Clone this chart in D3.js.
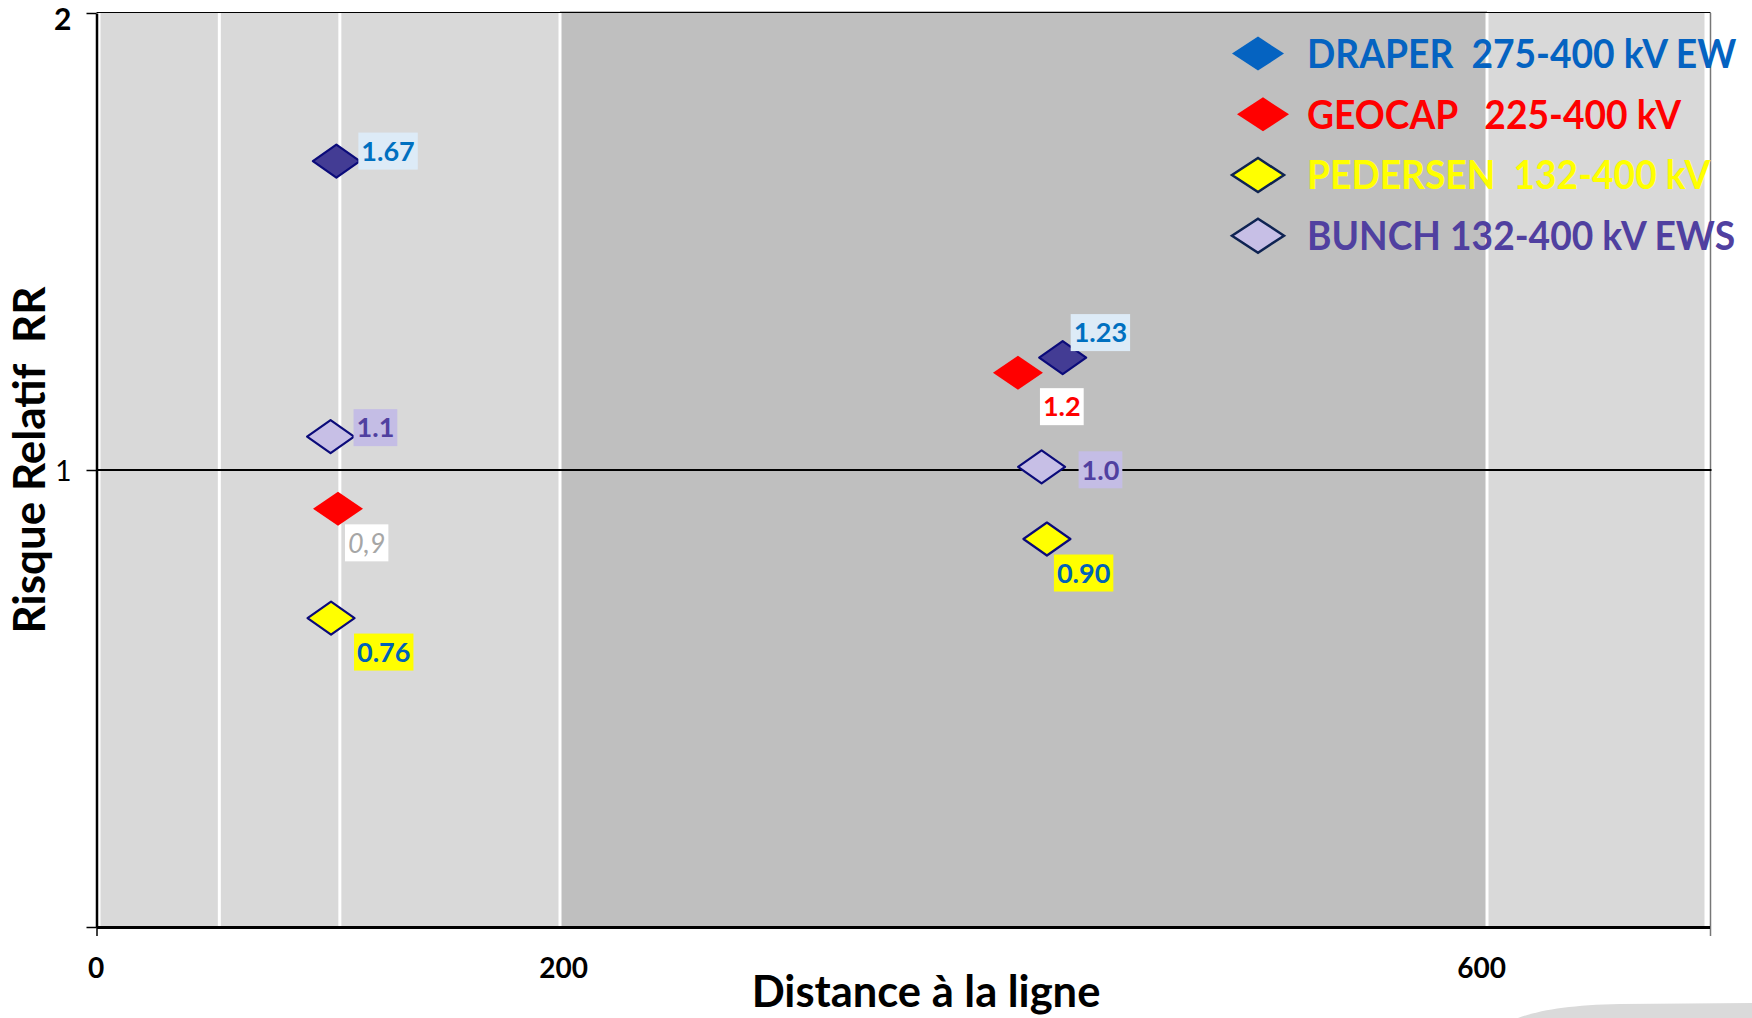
<!DOCTYPE html>
<html>
<head>
<meta charset="utf-8">
<script src="https://cdn.jsdelivr.net/npm/d3@7"></script>
<style>
body { margin: 0; background: #fff; }
svg { display: block; }
text { font-family: Lato, "Open Sans", sans-serif; }
</style>
</head>
<body>
<svg width="1752" height="1018"></svg>
<script>
// ---- data ----
var series = ["DRAPER", "GEOCAP", "PEDERSEN", "BUNCH"];
var legendLabels = ["DRAPER  275-400 kV EW", "GEOCAP   225-400 kV", "PEDERSEN  132-400 kV", "BUNCH 132-400 kV EWS"];

// points near the line (~100 m)
var nearDist = [103.5, 104.2, 101.2, 101.0];
var nearRR   = [1.676, 0.915, 0.676, 1.073];
var nearText = ["1.67", "0,9", "0.76", "1.1"];

// points further away (~400 m)
var farDist = [416.9, 397.6, 410.1, 407.8];
var farRR   = [1.246, 1.213, 0.849, 1.007];
var farText = ["1.23", "1.2", "0.90", "1.0"];

var xTicks = [0, 200, 600];
var yTicks = [0, 1, 2];
var gridX = [53, 105, 200, 600];
var xMax = 696;
var darkZone = [200, 600];

// ---- styles ----
var navy = "#0B0B7A";
var marker = {
  DRAPER:   {fill: "#433C94", stroke: navy, w: 47, h: 33},
  GEOCAP:   {fill: "#FF0000", stroke: "none", w: 50, h: 34},
  PEDERSEN: {fill: "#FFFF00", stroke: navy, w: 47, h: 33},
  BUNCH:    {fill: "#C7BFE6", stroke: navy, w: 47, h: 33}
};
var legendMarker = {
  DRAPER:   {fill: "#0563C1", stroke: "none", dx: 0},
  GEOCAP:   {fill: "#FF0000", stroke: "none", dx: 5},
  PEDERSEN: {fill: "#FFFF00", stroke: "#0E2352", dx: 0},
  BUNCH:    {fill: "#C7BFE6", stroke: "#0E2352", dx: 0}
};
var legendColor = {DRAPER: "#0563C1", GEOCAP: "#FF0000", PEDERSEN: "#FFFF00", BUNCH: "#5040A0"};

var nearLabel = {
  DRAPER:   {color: "#0070C0", bg: "#DDEBF7", dx: 22, dy: -10},
  GEOCAP:   {color: "#A6A6A6", bg: "#FFFFFF", dx: 7, dy: 34, italic: true},
  PEDERSEN: {color: "#0062B8", bg: "#FFFF00", dx: 23, dy: 34},
  BUNCH:    {color: "#5040A0", bg: "#C4BDE5", dx: 23, dy: -9}
};
var farLabel = {
  DRAPER:   {color: "#0070C0", bg: "#DDEBF7", dx: 8, dy: -25},
  GEOCAP:   {color: "#FF0000", bg: "#FFFFFF", dx: 22, dy: 34},
  PEDERSEN: {color: "#0062B8", bg: "#FFFF00", dx: 7, dy: 34},
  BUNCH:    {color: "#5040A0", bg: "#C4BDE5", dx: 37, dy: 3}
};

var svg = d3.select("svg");

var x = d3.scaleLinear().domain([0, xMax]).range([96.5, 1709.5]);
var y = d3.scaleLinear().domain([0, 2]).range([927, 13]);

function diamond(w, h) {
  return "M0," + (-h / 2) + "L" + (w / 2) + ",0L0," + (h / 2) + "L" + (-w / 2) + ",0Z";
}

// decorative swoosh bottom right
svg.append("path")
  .attr("d", "M1518,1018 C1540,1010 1570,1005 1620,1004 L1752,1003 L1752,1018 Z")
  .attr("fill", "#DADADA");

// background zones
var g = svg.append("g");
g.append("rect")
  .attr("x", x(0) + 4).attr("y", y(2))
  .attr("width", x(xMax) - x(0) - 9).attr("height", y(0) - y(2))
  .attr("fill", "#D9D9D9");
g.append("rect")
  .attr("x", x(darkZone[0])).attr("y", y(2) - 2)
  .attr("width", x(darkZone[1]) - x(darkZone[0])).attr("height", y(0) - y(2) + 2)
  .attr("fill", "#BFBFBF");

g.selectAll(".grid")
  .data(gridX)
  .enter().append("line")
  .attr("class", "grid")
  .attr("x1", d => x(d)).attr("x2", d => x(d))
  .attr("y1", y(2)).attr("y2", y(0))
  .attr("stroke", "#fff")
  .attr("stroke-width", 3);

// frame
g.append("line")
  .attr("x1", x(0)).attr("x2", x(xMax) + 1)
  .attr("y1", y(2) - 0.5).attr("y2", y(2) - 0.5)
  .attr("stroke", "#000").attr("stroke-width", 1.2);
g.append("line")
  .attr("x1", x(xMax) + 1).attr("x2", x(xMax) + 1)
  .attr("y1", y(2)).attr("y2", y(0) + 9)
  .attr("stroke", "#777").attr("stroke-width", 1.5);

// RR = 1 reference line
g.append("line")
  .attr("x1", x(0)).attr("x2", x(xMax) + 2)
  .attr("y1", y(1)).attr("y2", y(1))
  .attr("stroke", "#000").attr("stroke-width", 2.2);

// axes
var yAxis = d3.axisLeft(y).tickValues(yTicks).tickSize(10).tickSizeOuter(0).tickPadding(15)
  .tickFormat(d => d === 0 ? "" : d);
var ya = svg.append("g").attr("transform", "translate(" + x(0) + ",0)").call(yAxis);
ya.select(".domain").attr("stroke-width", 2.5);
ya.selectAll(".tick line").attr("stroke-width", 1.5);
ya.selectAll(".tick text")
  .attr("fill", "#000")
  .style("font-size", d => d === 2 ? "30px" : "28px")
  .style("font-weight", d => d === 2 ? "bold" : "normal")
  .attr("dy", d => d === 2 ? "0.55em" : "0.38em");

var xAxis = d3.axisBottom(x).tickValues(xTicks).tickSize(9).tickSizeOuter(0).tickPadding(22);
var xa = svg.append("g").attr("transform", "translate(0," + y(0) + ")").call(xAxis);
xa.select(".domain").attr("stroke-width", 3);
xa.selectAll(".tick line").attr("stroke-width", 1.5).attr("y2", d => d === 0 ? 9 : 0);
xa.selectAll(".tick text")
  .attr("fill", "#000")
  .style("font-size", "28px")
  .style("font-weight", "bold")
  .attr("dx", d => d === 200 ? 3 : d === 600 ? -6 : -1);

// points
var points = [];
series.forEach(function(s, i) {
  points.push({s: s, d: nearDist[i], rr: nearRR[i], t: nearText[i], lab: nearLabel[s]});
  points.push({s: s, d: farDist[i], rr: farRR[i], t: farText[i], lab: farLabel[s]});
});

svg.append("g").selectAll("path")
  .data(points)
  .enter().append("path")
  .attr("transform", d => "translate(" + x(d.d) + "," + y(d.rr) + ")")
  .attr("d", d => diamond(marker[d.s].w, marker[d.s].h))
  .attr("fill", d => marker[d.s].fill)
  .attr("stroke", d => marker[d.s].stroke)
  .attr("stroke-width", 2.2)
  .attr("stroke-linejoin", "round");

// value labels
var lg = svg.append("g").selectAll("g")
  .data(points)
  .enter().append("g")
  .attr("transform", d => "translate(" + (x(d.d) + d.lab.dx) + "," + (y(d.rr) + d.lab.dy) + ")");
var lrect = lg.append("rect").attr("y", -18.5).attr("height", 37).attr("fill", d => d.lab.bg);
var ltext = lg.append("text")
  .attr("x", 3)
  .attr("dy", "0.36em")
  .attr("fill", d => d.lab.color)
  .style("font-size", "27px")
  .style("font-weight", d => d.lab.italic ? "normal" : "bold")
  .style("font-style", d => d.lab.italic ? "italic" : "normal")
  .text(d => d.t);
ltext.each(function(d) { d.tw = this.getComputedTextLength(); });
lrect.attr("width", d => d.tw + 6);

// legend
var leg = svg.append("g").selectAll("g")
  .data(series)
  .enter().append("g")
  .attr("transform", (d, i) => "translate(0," + (53.6 + i * 60.7) + ")");
leg.append("path")
  .attr("transform", d => "translate(" + (1258 + legendMarker[d].dx) + ",0)")
  .attr("d", diamond(52, 34))
  .attr("fill", d => legendMarker[d].fill)
  .attr("stroke", d => legendMarker[d].stroke)
  .attr("stroke-width", 2.5);
leg.append("text")
  .attr("transform", "translate(1307,0) scale(0.93,1)")
  .attr("dy", "0.36em")
  .attr("fill", d => legendColor[d])
  .style("font-size", "40px")
  .style("font-weight", "bold")
  .style("white-space", "pre")
  .text((d, i) => legendLabels[i]);

// titles
svg.append("text")
  .attr("x", 926).attr("y", 1007)
  .attr("text-anchor", "middle")
  .style("font-size", "43.5px").style("font-weight", "bold")
  .text("Distance à la ligne");
svg.append("text")
  .attr("transform", "translate(45,460) rotate(-90)")
  .attr("text-anchor", "middle")
  .style("font-size", "44px").style("font-weight", "bold")
  .style("white-space", "pre")
  .text("Risque Relatif  RR");
</script>
</body>
</html>
